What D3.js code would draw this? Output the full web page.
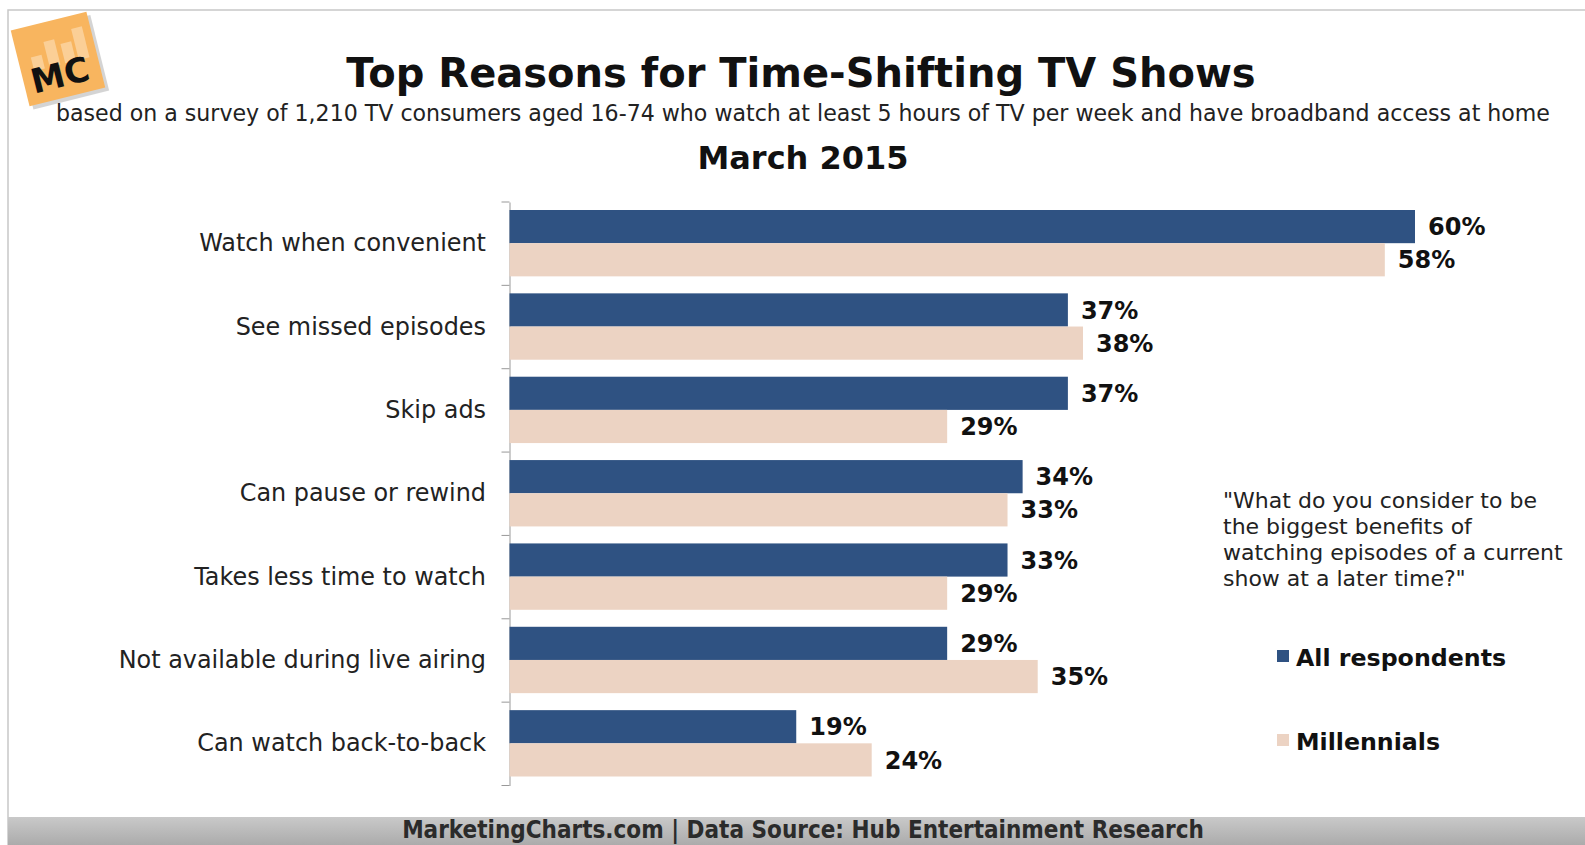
<!DOCTYPE html>
<html>
<head>
<meta charset="utf-8">
<script src="https://cdn.jsdelivr.net/npm/d3@7"></script>
<style>
  body { margin: 0; background: #fff; }
  svg { display: block; font-family: 'DejaVu Sans', Verdana, sans-serif; }
</style>
</head>
<body>
<svg id="chart" width="1585" height="845"></svg>
<script>
// chart data
const categories = [
  'Watch when convenient',
  'See missed episodes',
  'Skip ads',
  'Can pause or rewind',
  'Takes less time to watch',
  'Not available during live airing',
  'Can watch back-to-back',
];
const seriesNames = ['All respondents', 'Millennials'];
const allRespondents = [60, 37, 37, 34, 33, 29, 19];
const millennials = [58, 38, 29, 33, 29, 35, 24];
const seriesColors = ['#2f5282', '#ecd3c3'];

const svg = d3.select('#chart');

// frame and footer
svg.append('rect')
  .attr('x', 8).attr('y', 10).attr('width', 1590).attr('height', 840)
  .attr('fill', '#fff').attr('stroke', '#c8c8c8').attr('stroke-width', 1.5);

const grad = svg.append('defs').append('linearGradient')
  .attr('id', 'foot').attr('x1', 0).attr('y1', 0).attr('x2', 0).attr('y2', 1);
grad.append('stop').attr('offset', '0%').attr('stop-color', '#c9c9c9');
grad.append('stop').attr('offset', '100%').attr('stop-color', '#a9a9a9');
svg.append('rect')
  .attr('x', 8).attr('y', 817).attr('width', 1580).attr('height', 30)
  .attr('fill', 'url(#foot)');
svg.append('text')
  .attr('x', 803).attr('y', 838)
  .attr('text-anchor', 'middle')
  .style('font-family', "'Liberation Sans Narrow', 'DejaVu Sans Condensed', sans-serif")
  .style('font-weight', 'bold').style('font-size', '24px').attr('fill', '#2b2b2b')
  .text('MarketingCharts.com | Data Source: Hub Entertainment Research');

// MC logo
const logo = svg.append('g').attr('transform', 'translate(58,59) rotate(-14)');
logo.append('rect').attr('x', -39).attr('y', -39).attr('width', 78).attr('height', 78)
  .attr('fill', '#a9a9a9').attr('opacity', 0.5).attr('transform', 'translate(3,4)');
logo.append('rect').attr('x', -39).attr('y', -39).attr('width', 78).attr('height', 78)
  .attr('fill', '#f8b55f');
[[-26, -8, 14], [-10, -20, 26], [6, -14, 20], [20, -26, 32]].forEach(([bx, by, bh]) => {
  logo.append('rect').attr('x', bx).attr('y', by).attr('width', 11).attr('height', bh)
    .attr('fill', '#fbd6a4').attr('opacity', 0.8);
});
logo.append('text').attr('x', -2).attr('y', 28).attr('text-anchor', 'middle')
  .style('font-weight', 'bold').style('font-size', '34px').attr('fill', '#111')
  .text('MC');

// titles
svg.append('text')
  .attr('x', 801).attr('y', 87).attr('text-anchor', 'middle')
  .style('font-weight', 'bold').style('font-size', '40px').attr('fill', '#111')
  .text('Top Reasons for Time-Shifting TV Shows');
svg.append('text')
  .attr('x', 803).attr('y', 121).attr('text-anchor', 'middle')
  .style('font-size', '22.1px').attr('fill', '#222')
  .text('based on a survey of 1,210 TV consumers aged 16-74 who watch at least 5 hours of TV per week and have broadband access at home');
svg.append('text')
  .attr('x', 803).attr('y', 169).attr('text-anchor', 'middle')
  .style('font-weight', 'bold').style('font-size', '32px').attr('fill', '#111')
  .text('March 2015');

// scales
const x = d3.scaleLinear().domain([0, 60]).range([509.5, 1415]);
const y = d3.scaleBand().domain(categories).range([202, 785.5]);
const inner = d3.scaleBand().domain(seriesNames).range([8, y.bandwidth() - 9]);

const rows = categories.map((c, i) => ({ name: c, values: [allRespondents[i], millennials[i]] }));

// category axis
const yAxis = svg.append('g')
  .attr('transform', `translate(${x(0)},0)`)
  .call(d3.axisLeft(y).tickSize(0).tickPadding(23.5));
yAxis.select('.domain').attr('stroke', '#999');
yAxis.selectAll('text')
  .style('font-family', "'DejaVu Sans', Verdana, sans-serif")
  .style('font-size', '23.9px').attr('fill', '#222');
// tick marks between groups
svg.append('g').selectAll('line')
  .data(d3.range(categories.length + 1))
  .join('line')
  .attr('x1', x(0) - 8).attr('x2', x(0))
  .attr('y1', i => 202 + i * y.step())
  .attr('y2', i => 202 + i * y.step())
  .attr('stroke', '#999');

// bars
const group = svg.append('g').selectAll('g')
  .data(rows)
  .join('g')
  .attr('transform', d => `translate(0,${y(d.name)})`);

group.selectAll('rect')
  .data(d => d.values.map((v, k) => ({ v, s: seriesNames[k], k })))
  .join('rect')
  .attr('x', x(0))
  .attr('y', d => inner(d.s))
  .attr('width', d => x(d.v) - x(0))
  .attr('height', inner.bandwidth())
  .attr('fill', d => seriesColors[d.k]);

group.selectAll('text')
  .data(d => d.values.map((v, k) => ({ v, s: seriesNames[k] })))
  .join('text')
  .attr('x', d => x(d.v) + 13)
  .attr('y', d => inner(d.s) + inner.bandwidth() / 2)
  .attr('dy', '0.36em')
  .style('font-weight', 'bold').style('font-size', '24px').attr('fill', '#111')
  .text(d => `${d.v}%`);

// question note
const note = ['"What do you consider to be', 'the biggest benefits of',
  'watching episodes of a current', 'show at a later time?"'];
svg.append('g').selectAll('text')
  .data(note)
  .join('text')
  .attr('x', 1223)
  .attr('y', (d, i) => 507.5 + i * 26)
  .style('font-size', '22px').attr('fill', '#222')
  .text(d => d);

// legend
const legend = svg.append('g').selectAll('g')
  .data(seriesNames)
  .join('g')
  .attr('transform', (d, i) => `translate(1277,${657 + i * 84})`);
legend.append('rect')
  .attr('x', 0).attr('y', -7).attr('width', 12).attr('height', 12)
  .attr('fill', (d, i) => seriesColors[i]);
legend.append('text')
  .attr('x', 19).attr('y', 0).attr('dy', '0.36em')
  .style('font-weight', 'bold').style('font-size', '23.7px').attr('fill', '#111')
  .text(d => d);
</script>
</body>
</html>
